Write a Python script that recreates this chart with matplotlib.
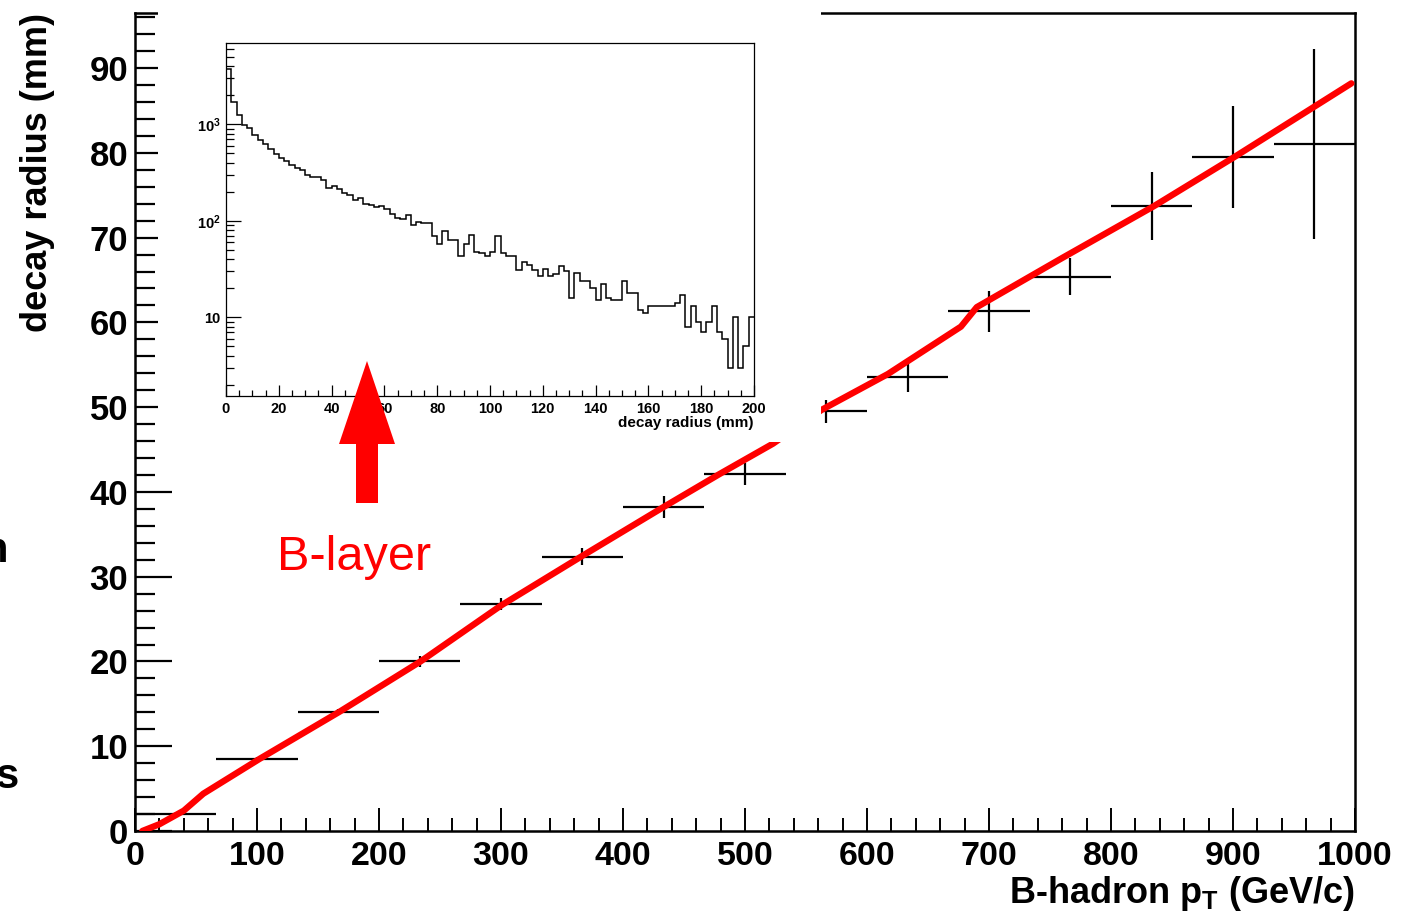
import numpy as np
import matplotlib
matplotlib.use("Agg")
import matplotlib.pyplot as plt
from matplotlib.patches import Rectangle, Polygon
from matplotlib.ticker import MultipleLocator, FixedLocator, FixedFormatter, LogLocator, NullFormatter

plt.rcParams["font.family"] = ["Liberation Sans", "DejaVu Sans"]
plt.rcParams["font.weight"] = "bold"
plt.rcParams["axes.labelweight"] = "bold"
plt.rcParams["mathtext.fontset"] = "custom"
plt.rcParams["mathtext.rm"] = "Liberation Sans:bold"
plt.rcParams["mathtext.bf"] = "Liberation Sans:bold"
plt.rcParams["mathtext.it"] = "Liberation Sans:bold:italic"

# --- profile: mean decay radius vs B-hadron pT ---
pt_edges = [0, 66.7, 133.3, 200, 266.7, 333.3, 400, 466.7, 533.3, 600,
            666.7, 733.3, 800, 866.7, 933.3, 1000]
radius_mean = [2.05, 8.47, 14.05, 20.0, 26.8, 32.35, 38.25, 42.1, 49.5, 53.6,
               61.3, 65.4, 73.7, 79.5, 81.0]
radius_err = [0.2, 0.3, 0.4, 0.6, 0.7, 1.0, 1.3, 1.3, 1.4, 1.8,
              2.4, 2.2, 4.0, 6.0, 11.2]

# red curve (expected radius at B-layer-like path)
curve_pt = [6, 20, 40, 56, 102, 168, 234, 300, 366, 433, 479, 523, 563, 617,
            677, 690, 760, 835, 901, 997]
curve_r = [0.0, 0.8, 2.4, 4.4, 8.5, 14.1, 20.0, 26.6, 32.4, 38.2, 42.1, 45.7,
           49.7, 53.9, 59.5, 61.8, 67.6, 73.7, 79.5, 88.2]

# --- inset: decay radius distribution, 2 mm bins ---
r_counts = [3776, 1703, 1249, 992, 916, 769, 694, 625, 560, 497,
            451, 414, 382, 356, 339, 296, 285, 285, 267, 219,
            230, 212, 196, 184, 163, 174, 151, 147, 139, 142,
            134, 119, 108, 105, 116, 91, 97, 94, 94, 70,
            57, 78, 64, 63, 43, 58, 72, 48, 46, 43,
            47, 70, 46, 43, 43, 31, 37, 35, 31, 27,
            32, 27, 28, 34, 30, 16, 29, 24, 24, 20,
            15, 22, 16, 15, 15, 24, 18, 18, 12, 11,
            13, 13, 13, 13, 13, 14, 17, 8, 13, 9,
            7, 9, 13, 7, 6, 3, 10, 3, 5, 10]
r_edges = np.linspace(0, 200, len(r_counts) + 1)

W, H = 1401, 916
fig = plt.figure(figsize=(W / 100, H / 100), dpi=100)


def px_rect(x0, y0, x1, y1):
    # pixel box (top-left origin) -> figure fraction [l, b, w, h]
    return [x0 / W, 1 - y1 / H, (x1 - x0) / W, (y1 - y0) / H]


def fx(x):
    return x / W


def fy(y):
    return 1 - y / H


# ---- main profile ----
ax = fig.add_axes(px_rect(135, 13, 1355, 831))
edges = np.array(pt_edges)
centers = 0.5 * (edges[:-1] + edges[1:])
half = 0.5 * np.diff(edges)
ax.errorbar(centers, radius_mean, xerr=half, yerr=radius_err, fmt="none",
            ecolor="black", elinewidth=1.6, capsize=0, zorder=2)
ax.plot(curve_pt, curve_r, color="red", lw=4.6, solid_capstyle="round", zorder=3)

ax.set_xlim(0, 1000)
ax.set_ylim(0, 96.5)
ax.xaxis.set_major_locator(MultipleLocator(100))
ax.xaxis.set_minor_locator(MultipleLocator(20))
ax.yaxis.set_major_locator(MultipleLocator(10))
ax.yaxis.set_minor_locator(MultipleLocator(2))
ax.tick_params(axis="y", which="major", direction="in", length=26.5, width=1.6, labelsize=25, pad=5)
ax.tick_params(axis="y", which="minor", direction="in", length=14.4, width=1.6)
ax.tick_params(axis="x", which="major", direction="in", length=16.5, width=1.4, labelsize=24.5, pad=7.5)
ax.tick_params(axis="x", which="minor", direction="in", length=9.4, width=1.4)
for s in ax.spines.values():
    s.set_linewidth(1.8)

ax.set_xlabel(r"B-hadron p$_{\mathbf{T}}$ (GeV/c)", fontsize=26, fontweight="bold", loc="right")
ax.xaxis.set_label_coords(1.0, -0.052)
ax.set_ylabel("decay radius (mm)", fontsize=26, fontweight="bold", loc="top")
ax.yaxis.set_label_coords(-0.0656, 1.0)

# white panel behind the inset
fig.patches.append(Rectangle((fx(158), fy(442)), (821 - 158) / W, 442 / H,
                             transform=fig.transFigure, facecolor="white",
                             edgecolor="none", zorder=1))

# ---- inset histogram ----
ax_in = fig.add_axes(px_rect(226, 43, 754, 396), zorder=2)
ax_in.stairs(r_counts, r_edges, baseline=None, color="black", lw=1.1)
ax_in.set_yscale("log")
ax_in.set_xlim(0, 200)
ax_in.set_ylim(1.53, 6960)
ax_in.xaxis.set_major_locator(MultipleLocator(20))
ax_in.xaxis.set_minor_locator(MultipleLocator(5))
ax_in.yaxis.set_major_locator(FixedLocator([10, 100, 1000]))
ax_in.yaxis.set_major_formatter(FixedFormatter(["10", r"$\mathbf{10^{2}}$", r"$\mathbf{10^{3}}$"]))
ax_in.yaxis.set_minor_locator(LogLocator(base=10, subs=np.arange(2, 10)))
ax_in.yaxis.set_minor_formatter(NullFormatter())
ax_in.tick_params(axis="x", which="major", direction="in", length=8, width=0.9, labelsize=10.5, pad=4)
ax_in.tick_params(axis="x", which="minor", direction="in", length=4.3, width=0.9)
ax_in.tick_params(axis="y", which="major", direction="in", length=10.8, width=0.9, labelsize=10.5, pad=4)
ax_in.tick_params(axis="y", which="minor", direction="in", length=5.8, width=0.9)
for s in ax_in.spines.values():
    s.set_linewidth(0.9)
ax_in.set_xlabel("decay radius (mm)", fontsize=11, fontweight="bold", loc="right")
ax_in.xaxis.set_label_coords(1.0, -0.058)

# ---- B-layer arrow and label ----
arrow_px = [(367, 361), (395, 444), (378, 444), (378, 503),
            (356, 503), (356, 444), (339, 444)]
fig.patches.append(Polygon([(fx(x), fy(y)) for x, y in arrow_px], closed=True,
                           transform=fig.transFigure, facecolor="red",
                           edgecolor="none", zorder=4))
fig.text(fx(277), fy(570), "B-layer", color="red", fontsize=35, fontweight="normal",
         ha="left", va="baseline", zorder=4)

# cut-off slide text at the left edge
fig.text(fx(8), fy(562), "n", fontsize=30, ha="right", va="baseline")
fig.text(fx(19), fy(788), "s", fontsize=30, ha="right", va="baseline")

fig.savefig("out.png", dpi=100)
